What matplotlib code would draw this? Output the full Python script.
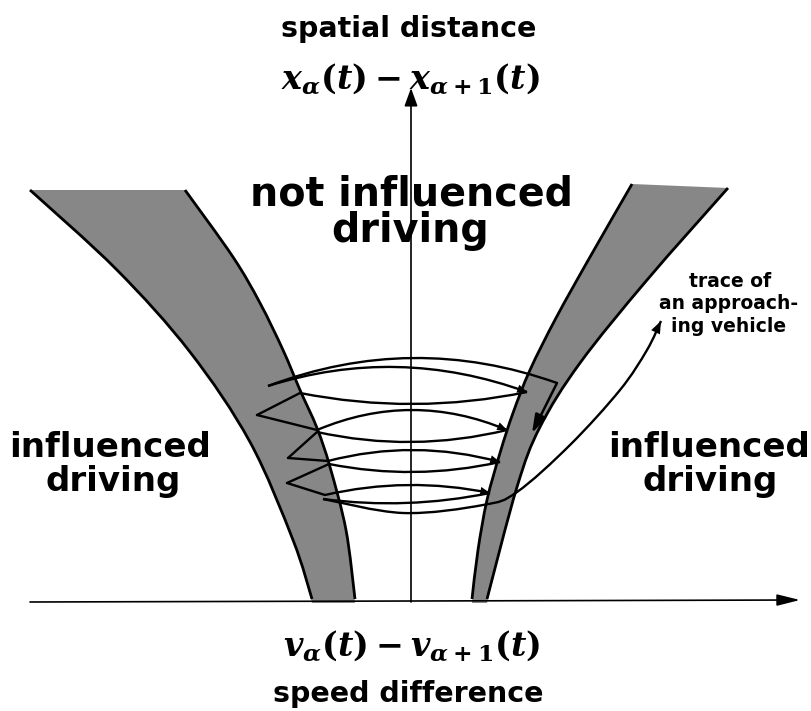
"""
Sketch of the car-following phase plane: spatial distance vs speed difference,
with the grey perception thresholds and the trace of an approaching vehicle.
Drawn in pixel coordinates (y pointing down) so the hand-drawn shapes can be
read straight off the original figure.
"""
import numpy as np
import matplotlib.pyplot as plt
from matplotlib.path import Path
from matplotlib.patches import PathPatch

plt.rcParams['mathtext.fontset'] = 'custom'
plt.rcParams['mathtext.it'] = 'DejaVu Serif:italic:bold'
plt.rcParams['mathtext.rm'] = 'DejaVu Serif:bold'
plt.rcParams['mathtext.bf'] = 'DejaVu Serif:bold'

# ---- threshold bands (edge points, pixel coords) ----
left_outer = [(30, 190), (117, 270), (190, 352), (250, 442), (293, 540), (312, 603)]
left_inner = [(185, 190), (233, 257), (260, 303), (283, 350), (300, 390), (317, 428),
              (330, 467), (346, 530), (355, 603)]
right_inner = [(632, 184), (590, 257), (556, 318), (530, 370), (513, 413), (500, 453),
               (487, 500), (478, 550), (472, 603)]
right_outer = [(728, 188), (647, 280), (580, 363), (540, 427), (517, 487), (487, 603)]

# ---- trace of the approaching vehicle ----
# corners of the hand-drawn trace, in drawing order
trace_knots = [(557, 383), (268, 386), (527, 392), (300, 393), (257, 415), (317, 430),
               (507, 430), (317, 432), (288, 458), (328, 461), (500, 462), (329, 464),
               (287, 483), (325, 495), (490, 493), (323, 499)]
# height where each swing crosses the vertical axis (None = short straight zigzag)
trace_mid_y = [358, 367, 404, None, None, 410, 442, None, None, 450, 472, None, None,
               485, 503]
# last swing runs out into the annotation line
trace_tail = [(323, 499), (403, 513), (483, 505), (517, 492), (570, 445), (620, 390),
              (647, 350), (661, 321)]
down_arrow = [(557, 383), (532, 433)]

GREY = "#878787"
AXIS_Y = 602
AXIS_X = 411


def smooth_path(pts):
    """Catmull-Rom through the points, as cubic Bezier segments."""
    p = np.asarray(pts, float)
    verts = [p[0]]
    codes = [Path.MOVETO]
    for i in range(len(p) - 1):
        p0 = p[i - 1] if i > 0 else p[i]
        p3 = p[i + 2] if i + 2 < len(p) else p[i + 1]
        c1 = p[i] + (p[i + 1] - p0) / 6
        c2 = p[i + 1] - (p3 - p[i]) / 6
        verts += [c1, c2, p[i + 1]]
        codes += [Path.CURVE4] * 3
    return verts, codes


def band(ax, outer, inner):
    v1, c1 = smooth_path(outer)
    v2, c2 = smooth_path(inner[::-1])
    verts = v1 + v2 + [v1[0]]
    codes = c1 + [Path.LINETO] + c2[1:] + [Path.CLOSEPOLY]
    ax.add_patch(PathPatch(Path(verts, codes), fc=GREY, ec="none", zorder=1))
    for edge in (outer, inner):
        v, c = smooth_path(edge[:-1] + [(edge[-1][0], edge[-1][1] - 4)])
        ax.add_patch(PathPatch(Path(v, c), fc="none", ec="black", lw=2.0, zorder=2))


def head(ax, tip, direction, length, style):
    d = np.asarray(direction, float)
    d = d / np.hypot(*d)
    ax.annotate("", xy=tip, xytext=np.asarray(tip, float) - length * d,
                arrowprops=dict(arrowstyle=style, lw=0, color="black",
                                shrinkA=0, shrinkB=0),
                zorder=4)


fig = plt.figure(figsize=(8.12, 7.11), dpi=100)
ax = fig.add_axes([0, 0, 1, 1])
ax.set_xlim(0, 812)
ax.set_ylim(711, 0)
ax.axis("off")

band(ax, left_outer, left_inner)
band(ax, right_outer, right_inner)

# axes with arrow heads
ax.annotate("", xy=(AXIS_X, 88), xytext=(AXIS_X, AXIS_Y),
            arrowprops=dict(arrowstyle="-|>,head_length=1.1,head_width=0.4",
                            lw=1.2, color="black", shrinkA=0, shrinkB=0),
            zorder=3)
ax.annotate("", xy=(800, AXIS_Y - 2), xytext=(30, AXIS_Y),
            arrowprops=dict(arrowstyle="-|>,head_length=1.4,head_width=0.35",
                            lw=1.2, color="black", shrinkA=0, shrinkB=0),
            zorder=3)

# the oscillating trace: quadratic swings across, straight zigzags on the left
for s, e, ym in zip(trace_knots[:-1], trace_knots[1:], trace_mid_y):
    s = np.array(s, float)
    e = np.array(e, float)
    if ym is None:
        ax.plot([s[0], e[0]], [s[1], e[1]], color="black", lw=1.7,
                solid_capstyle="round", zorder=4)
        continue
    m = np.array([(s[0] + e[0]) / 2, ym])
    c = 2 * m - (s + e) / 2
    ax.add_patch(PathPatch(Path([s, c, e], [Path.MOVETO, Path.CURVE3, Path.CURVE3]),
                           fc="none", ec="black", lw=1.7, zorder=4))
    if e[0] > s[0] + 150:
        head(ax, e, e - c, 9, "-|>,head_length=0.7,head_width=0.3")

v, c = smooth_path(trace_tail)
ax.add_patch(PathPatch(Path(v, c), fc="none", ec="black", lw=1.7, zorder=4))
tip = np.array(trace_tail[-1], float)
head(ax, tip, tip - np.array(trace_tail[-2], float), 12,
     "-|>,head_length=0.9,head_width=0.35")
ax.annotate("", xy=down_arrow[1], xytext=down_arrow[0],
            arrowprops=dict(arrowstyle="-|>,head_length=1.1,head_width=0.35",
                            lw=1.8, color="black", shrinkA=0, shrinkB=0),
            zorder=4)

# labels
bold = dict(fontweight="bold", color="black", ha="center", va="baseline")
ax.text(409, 37, "spatial distance", fontsize=20.5, **bold)
ax.text(410, 79, r"$x_\alpha(t) - x_{\alpha+1}(t)$", fontsize=24,
        ha="center", va="center")
ax.text(412, 205, "not influenced", fontsize=28.5, **bold)
ax.text(410, 242, "driving", fontsize=28.5, **bold)
ax.text(110, 457, "influenced", fontsize=24.5, **bold)
ax.text(113, 491, "driving", fontsize=24.5, **bold)
ax.text(709, 457, "influenced", fontsize=24.5, **bold)
ax.text(710, 491, "driving", fontsize=24.5, **bold)
ax.text(730, 287, "trace of", fontsize=13.5, **bold)
ax.text(729, 309, "an approach-", fontsize=13.5, **bold)
ax.text(729, 332, "ing vehicle", fontsize=13.5, **bold)
ax.text(412, 646, r"$v_\alpha(t) - v_{\alpha+1}(t)$", fontsize=24,
        ha="center", va="center")
ax.text(408, 702, "speed difference", fontsize=20.5, **bold)

fig.savefig("out.png", dpi=100)
